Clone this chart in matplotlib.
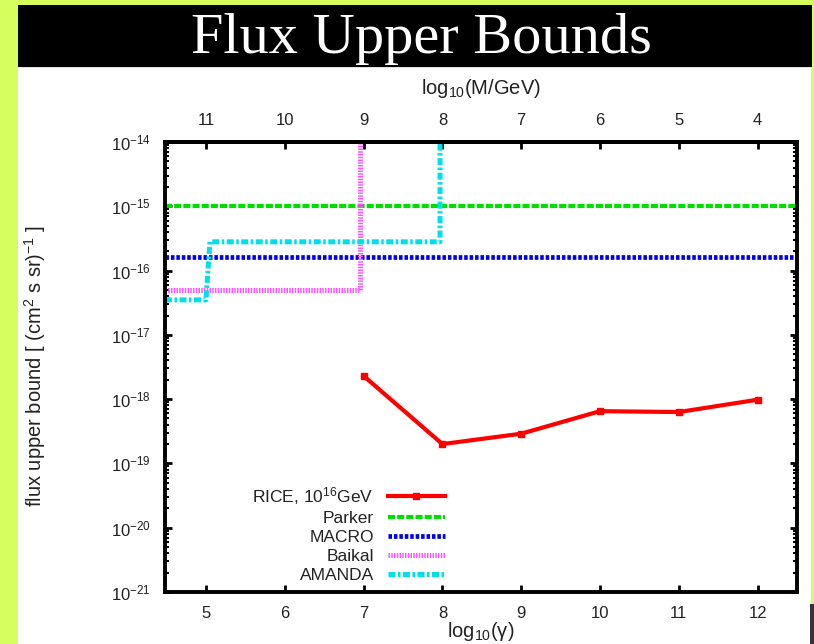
import matplotlib
matplotlib.use("Agg")
import matplotlib.pyplot as plt
from matplotlib.patches import Rectangle
from matplotlib.ticker import LogLocator, FixedLocator, NullFormatter

plt.rcParams['font.family'] = ['Liberation Sans', 'DejaVu Sans']
plt.rcParams['mathtext.default'] = 'regular'

# log10(gamma) grid and RICE bounds
rice_x = [7, 8, 9, 10, 11, 12]
rice_y = [2.3e-18, 2.0e-19, 2.9e-19, 6.5e-19, 6.3e-19, 9.8e-19]

# other experiments (step-shaped limits)
parker_x = [4.48, 12.5]
parker_y = [1.0e-15, 1.0e-15]
macro_x = [4.48, 12.5]
macro_y = [1.6e-16, 1.6e-16]
baikal_x = [4.48, 6.95, 6.95]
baikal_y = [5.0e-17, 5.0e-17, 1.0e-14]
amanda_x = [4.48, 5.0, 5.05, 7.97, 7.97]
amanda_y = [3.5e-17, 3.5e-17, 2.8e-16, 2.8e-16, 1.0e-14]

gamma_ticks = [5, 6, 7, 8, 9, 10, 11, 12]
mass_ticks = [11, 10, 9, 8, 7, 6, 5, 4]
flux_decades = list(range(-21, -13))

W, H = 814, 644
fig = plt.figure(figsize=(W / 100, H / 100), dpi=100)
fig.patch.set_facecolor('#d6ff5e')

# page background, white sheet and black title banner
fig.add_artist(Rectangle((18 / W, 0), (811 - 18) / W, 1 - 68 / H,
                         transform=fig.transFigure, facecolor='white',
                         edgecolor='none', zorder=0))
fig.add_artist(Rectangle((18 / W, 1 - 67 / H), (812 - 18) / W, (67 - 5) / H,
                         transform=fig.transFigure, facecolor='black',
                         edgecolor='none', zorder=0))
fig.add_artist(Rectangle((810 / W, 0), 4 / W, 40 / H,
                         transform=fig.transFigure, facecolor='#3a3040',
                         edgecolor='none', zorder=0))
fig.text(421 / W, 1 - 53 / H, 'Flux Upper Bounds', color='white',
         family=['Liberation Serif', 'DejaVu Serif'], fontsize=42,
         ha='center', va='baseline')

ax = fig.add_axes([165 / W, 1 - 592 / H, (797 - 165) / W, (592 - 142) / H])
ax.set_yscale('log')
ax.set_xlim(4.48, 12.5)
ax.set_ylim(1e-21, 1e-14)

ax.plot(rice_x, rice_y, color='#ff0000', lw=3, marker='s', ms=4.5,
        label='RICE, 10$^{16}$GeV', zorder=5)
ax.plot(parker_x, parker_y, color='#00dd00', lw=3, dashes=(1.7, 0.5),
        label='Parker')
ax.plot(macro_x, macro_y, color='#0000ee', lw=3.4, dashes=(0.75, 0.4),
        label='MACRO')
ax.plot(baikal_x, baikal_y, color='#ff55ff', lw=3.6, dashes=(0.3, 0.25),
        label='Baikal', clip_on=True)
ax.plot(amanda_x, amanda_y, color='#00e0ea', lw=3.6,
        dashes=(1.4, 0.5, 0.5, 0.5), label='AMANDA')

for s in ax.spines.values():
    s.set_linewidth(2.8)

ax.xaxis.set_major_locator(FixedLocator(gamma_ticks))
ax.yaxis.set_major_locator(FixedLocator([10.0 ** k for k in flux_decades]))
ax.yaxis.set_minor_locator(LogLocator(base=10, subs=range(2, 10), numticks=20))
ax.yaxis.set_minor_formatter(NullFormatter())
ax.tick_params(axis='both', which='major', direction='in', length=5,
               width=2, labelsize=12, pad=10, colors='black')
ax.tick_params(axis='x', which='major', top=False)
ax.tick_params(axis='y', which='both', right=True)
ax.tick_params(axis='y', which='minor', direction='in', length=3, width=1.5)
for lab in ax.get_xticklabels() + ax.get_yticklabels():
    lab.set_color('#222222')

# top axis: monopole mass corresponding to each Lorentz factor
sec = ax.secondary_xaxis('top', functions=(lambda g: 16 - g, lambda m: 16 - m))
sec.set_xticks(mass_ticks)
sec.set_xticklabels([str(m) for m in mass_ticks])
sec.tick_params(direction='in', length=5, width=2, labelsize=12, pad=10,
                labelcolor='#222222')
sec.spines['top'].set_linewidth(2.8)

fig.text(481 / W, 1 - 89 / H, 'log$_{10}$(M/GeV)', fontsize=14.5,
         ha='center', va='center', color='#222222')
fig.text(481 / W, 1 / H, 'log$_{10}$(γ)', fontsize=14.5,
         ha='center', va='bottom', color='#222222')
fig.text(35 / W, 1 - 366 / H, 'flux upper bound [ (cm$^2$ s sr)$^{-1}$ ]',
         fontsize=14.5, rotation=90, ha='center', va='center',
         color='#222222')

leg = ax.legend(loc='lower right', bbox_to_anchor=(0.443, 0.02),
                frameon=False, markerfirst=False, fontsize=12.5,
                handlelength=3.3, handletextpad=0.8, labelspacing=0.22,
                borderpad=0, borderaxespad=0)
for col in leg._legend_handle_box.get_children():
    col.align = 'right'
for t in leg.get_texts():
    t.set_color('#222222')

fig.savefig('out.png', dpi=100, facecolor=fig.get_facecolor())
